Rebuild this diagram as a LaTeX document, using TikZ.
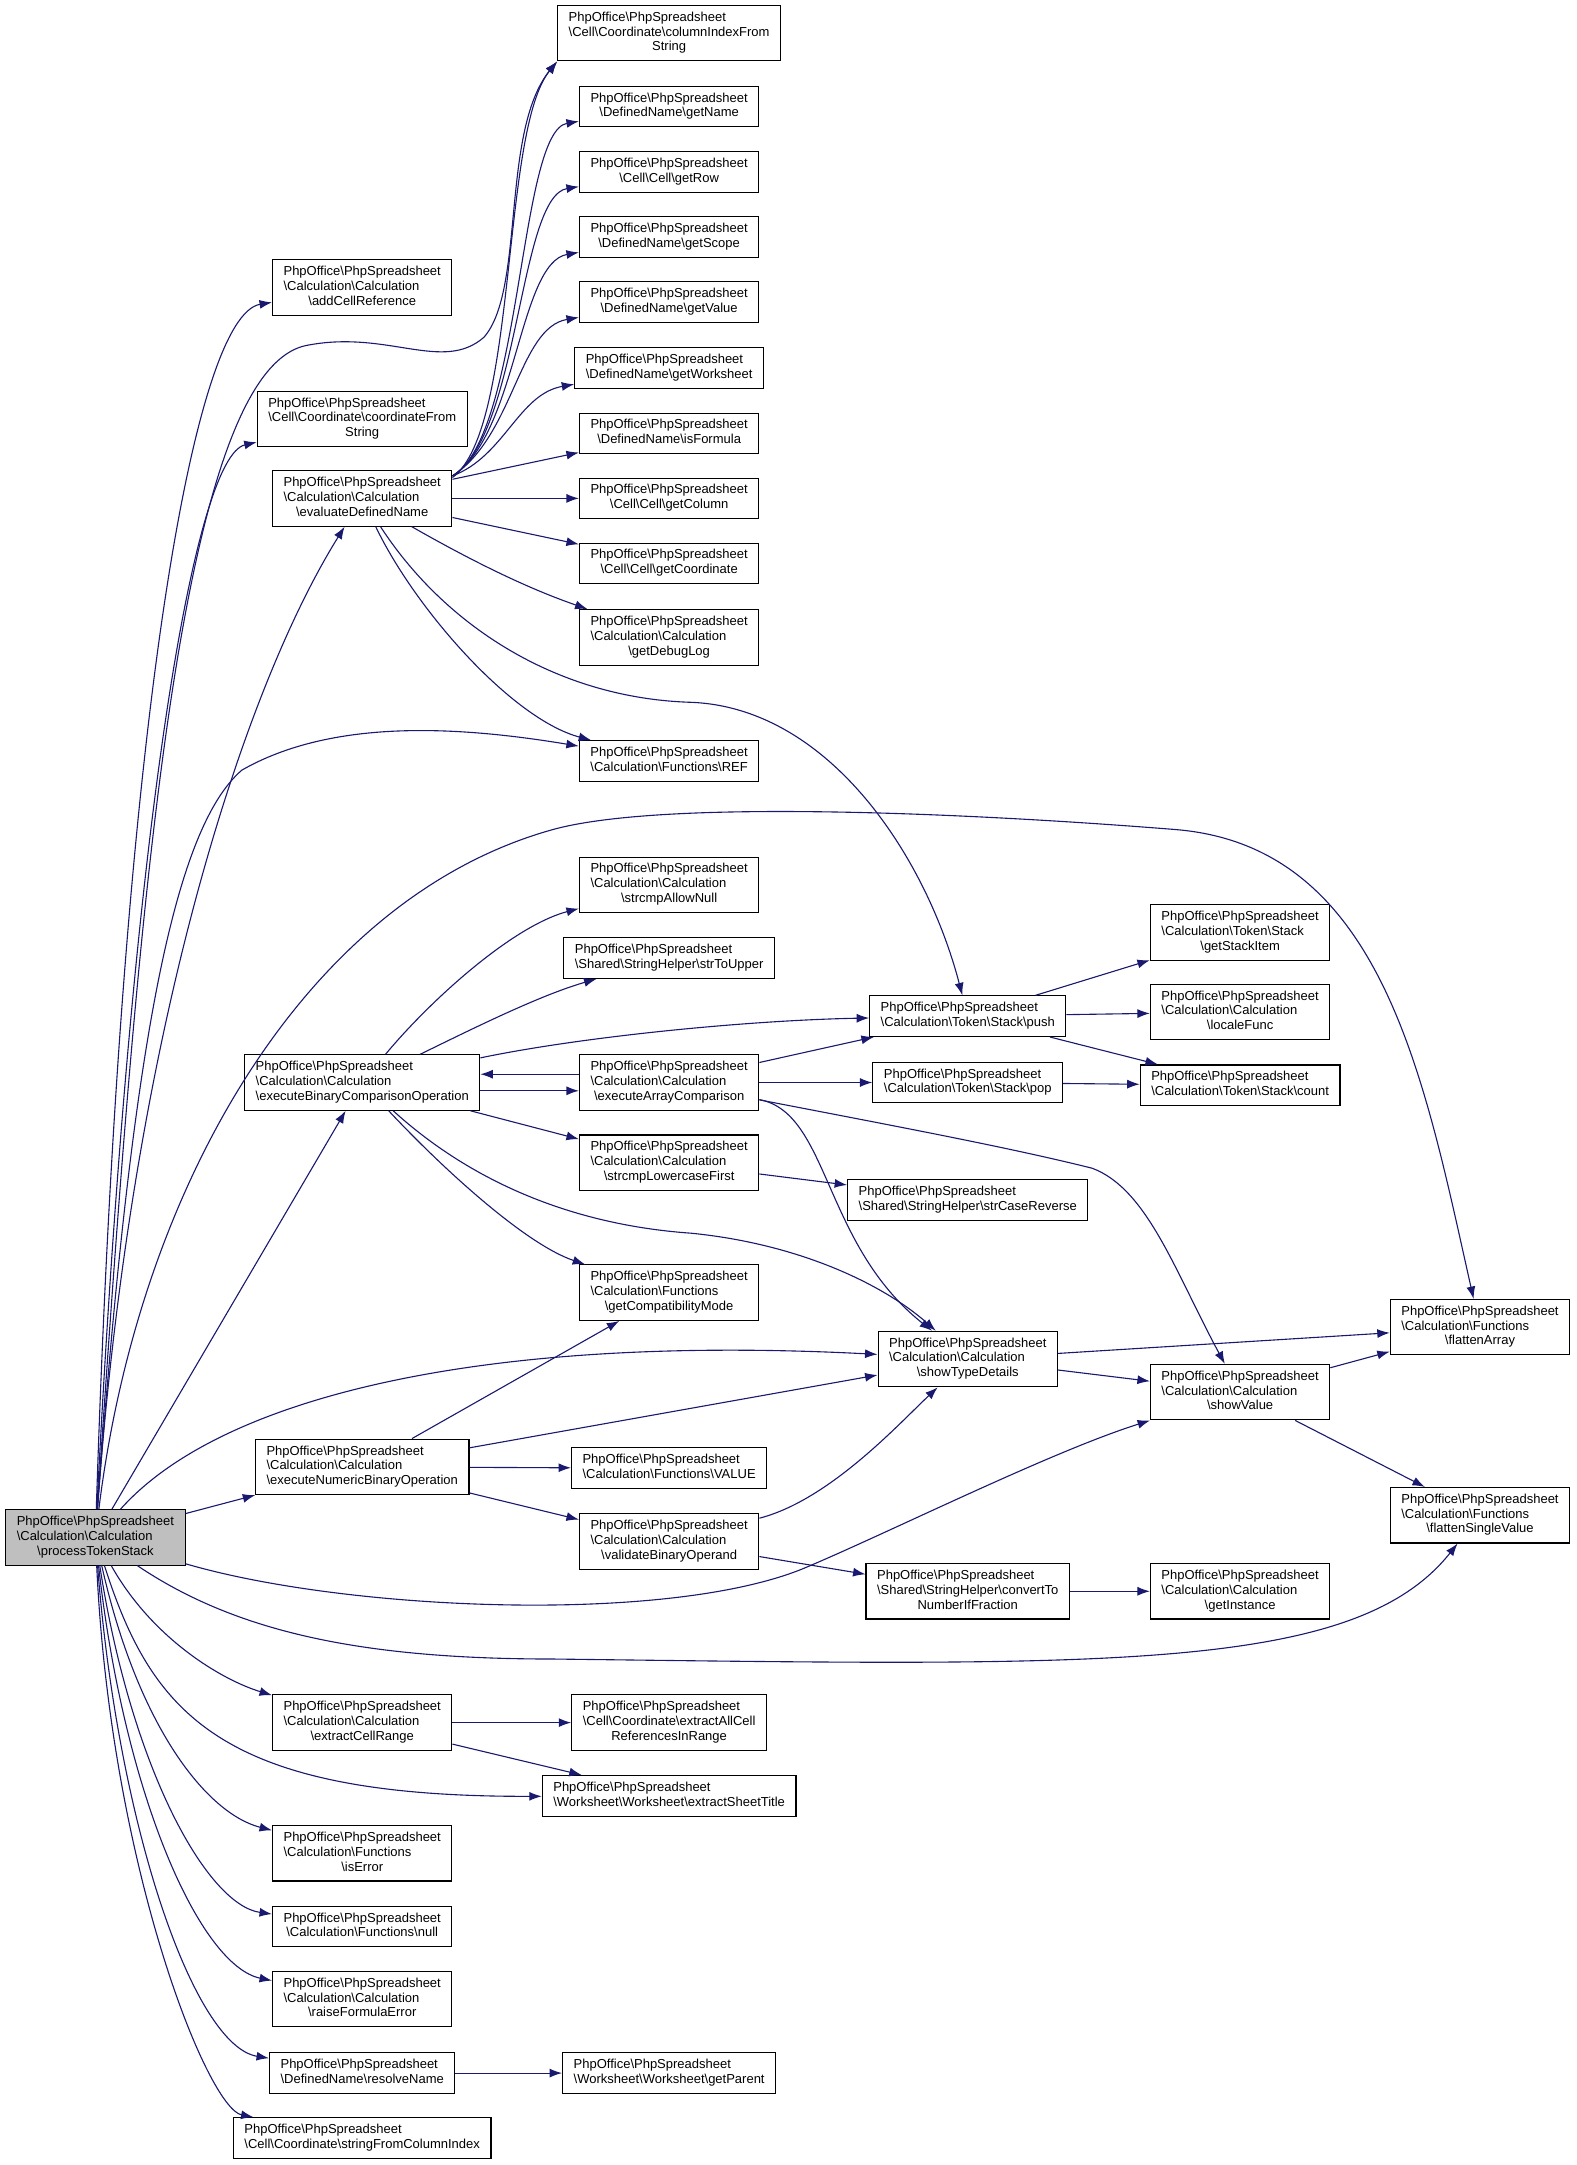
\documentclass[tikz,border=0pt]{standalone}
\usepackage{fontspec}
\setmainfont{Liberation Sans}
\usepackage{tikz}
\usetikzlibrary{arrows.meta}
\definecolor{edgeblue}{HTML}{191970}
\newcommand{\bks}{\textbackslash}
\newcommand{\dlines}[2]{\begin{tabular}{@{}l@{}}#1\\\multicolumn{1}{@{}c@{}}{#2}\end{tabular}}

\begin{document}
\begin{tikzpicture}[x=1pt,y=-1pt,
 fnbox/.style={draw=black,fill=white,line width=0.8pt,inner xsep=8pt,inner ysep=4pt,font=\fontsize{9.4}{10.7}\selectfont},
 curfn/.style={fnbox,fill=black!25},
 call/.style={draw=edgeblue,line width=0.8pt,-{Latex[length=9pt,width=6.5pt]}}]

\path[use as bounding box,fill=white] (0,0) rectangle (1140,1566);

% la fonction appelante
\node[curfn] (pts) at (69,1112) {\dlines{PhpOffice\bks PhpSpreadsheet\\\bks Calculation\bks Calculation}{\bks processTokenStack}};

% colonne 1
\node[fnbox] (addr) at (262,208) {\dlines{PhpOffice\bks PhpSpreadsheet\\\bks Calculation\bks Calculation}{\bks addCellReference}};
\node[fnbox] (cfs) at (262,303) {\dlines{PhpOffice\bks PhpSpreadsheet\\\bks Cell\bks Coordinate\bks coordinateFrom}{String}};
\node[fnbox] (edn) at (262,360.5) {\dlines{PhpOffice\bks PhpSpreadsheet\\\bks Calculation\bks Calculation}{\bks evaluateDefinedName}};
\node[fnbox] (ebco) at (262,783) {\dlines{PhpOffice\bks PhpSpreadsheet\\\bks Calculation\bks Calculation}{\bks executeBinaryComparisonOperation}};
\node[fnbox] (enbo) at (262,1061) {\dlines{PhpOffice\bks PhpSpreadsheet\\\bks Calculation\bks Calculation}{\bks executeNumericBinaryOperation}};
\node[fnbox] (ecr) at (262,1246) {\dlines{PhpOffice\bks PhpSpreadsheet\\\bks Calculation\bks Calculation}{\bks extractCellRange}};
\node[fnbox] (iserr) at (262,1340.5) {\dlines{PhpOffice\bks PhpSpreadsheet\\\bks Calculation\bks Functions}{\bks isError}};
\node[fnbox] (fnull) at (262,1393.5) {\dlines{PhpOffice\bks PhpSpreadsheet}{\bks Calculation\bks Functions\bks null}};
\node[fnbox] (rfe) at (262,1446) {\dlines{PhpOffice\bks PhpSpreadsheet\\\bks Calculation\bks Calculation}{\bks raiseFormulaError}};
\node[fnbox] (rn) at (262,1499.5) {\dlines{PhpOffice\bks PhpSpreadsheet}{\bks DefinedName\bks resolveName}};
\node[fnbox] (sfci) at (262,1546.5) {\dlines{PhpOffice\bks PhpSpreadsheet}{\bks Cell\bks Coordinate\bks stringFromColumnIndex}};

% colonne 2
\node[fnbox] (cifs) at (484,24) {\dlines{PhpOffice\bks PhpSpreadsheet\\\bks Cell\bks Coordinate\bks columnIndexFrom}{String}};
\node[fnbox] (getName) at (484,77) {\dlines{PhpOffice\bks PhpSpreadsheet}{\bks DefinedName\bks getName}};
\node[fnbox] (getRow) at (484,124.5) {\dlines{PhpOffice\bks PhpSpreadsheet}{\bks Cell\bks Cell\bks getRow}};
\node[fnbox] (getScope) at (484,171.5) {\dlines{PhpOffice\bks PhpSpreadsheet}{\bks DefinedName\bks getScope}};
\node[fnbox] (getValue) at (484,218.5) {\dlines{PhpOffice\bks PhpSpreadsheet}{\bks DefinedName\bks getValue}};
\node[fnbox] (getWs) at (484,266) {\dlines{PhpOffice\bks PhpSpreadsheet}{\bks DefinedName\bks getWorksheet}};
\node[fnbox] (isFormula) at (484,313.5) {\dlines{PhpOffice\bks PhpSpreadsheet}{\bks DefinedName\bks isFormula}};
\node[fnbox] (getColumn) at (484,360.5) {\dlines{PhpOffice\bks PhpSpreadsheet}{\bks Cell\bks Cell\bks getColumn}};
\node[fnbox] (getCoord) at (484,407.5) {\dlines{PhpOffice\bks PhpSpreadsheet}{\bks Cell\bks Cell\bks getCoordinate}};
\node[fnbox] (getDebugLog) at (484,461) {\dlines{PhpOffice\bks PhpSpreadsheet\\\bks Calculation\bks Calculation}{\bks getDebugLog}};
\node[fnbox] (fref) at (484,550.5) {\dlines{PhpOffice\bks PhpSpreadsheet}{\bks Calculation\bks Functions\bks REF}};
\node[fnbox] (strcmpAN) at (484,640) {\dlines{PhpOffice\bks PhpSpreadsheet\\\bks Calculation\bks Calculation}{\bks strcmpAllowNull}};
\node[fnbox] (strToUpper) at (484,693) {\dlines{PhpOffice\bks PhpSpreadsheet}{\bks Shared\bks StringHelper\bks strToUpper}};
\node[fnbox] (eac) at (484,783) {\dlines{PhpOffice\bks PhpSpreadsheet\\\bks Calculation\bks Calculation}{\bks executeArrayComparison}};
\node[fnbox] (slf) at (484,841) {\dlines{PhpOffice\bks PhpSpreadsheet\\\bks Calculation\bks Calculation}{\bks strcmpLowercaseFirst}};
\node[fnbox] (gcm) at (484,935) {\dlines{PhpOffice\bks PhpSpreadsheet\\\bks Calculation\bks Functions}{\bks getCompatibilityMode}};
\node[fnbox] (fvalue) at (484,1062) {\dlines{PhpOffice\bks PhpSpreadsheet}{\bks Calculation\bks Functions\bks VALUE}};
\node[fnbox] (vbo) at (484,1115) {\dlines{PhpOffice\bks PhpSpreadsheet\\\bks Calculation\bks Calculation}{\bks validateBinaryOperand}};
\node[fnbox] (eacr) at (484,1246) {\dlines{PhpOffice\bks PhpSpreadsheet\\\bks Cell\bks Coordinate\bks extractAllCell}{ReferencesInRange}};
\node[fnbox] (est) at (484,1299) {\dlines{PhpOffice\bks PhpSpreadsheet}{\bks Worksheet\bks Worksheet\bks extractSheetTitle}};
\node[fnbox] (getParent) at (484,1499.5) {\dlines{PhpOffice\bks PhpSpreadsheet}{\bks Worksheet\bks Worksheet\bks getParent}};

% colonne 3
\node[fnbox] (push) at (700,735) {\dlines{PhpOffice\bks PhpSpreadsheet}{\bks Calculation\bks Token\bks Stack\bks push}};
\node[fnbox] (pop) at (700,783) {\dlines{PhpOffice\bks PhpSpreadsheet}{\bks Calculation\bks Token\bks Stack\bks pop}};
\node[fnbox] (scr) at (700,868) {\dlines{PhpOffice\bks PhpSpreadsheet}{\bks Shared\bks StringHelper\bks strCaseReverse}};
\node[fnbox] (std) at (700,983) {\dlines{PhpOffice\bks PhpSpreadsheet\\\bks Calculation\bks Calculation}{\bks showTypeDetails}};
\node[fnbox] (ctnif) at (700,1151) {\dlines{PhpOffice\bks PhpSpreadsheet\\\bks Shared\bks StringHelper\bks convertTo}{NumberIfFraction}};

% colonne 4
\node[fnbox] (gsi) at (897,674.5) {\dlines{PhpOffice\bks PhpSpreadsheet\\\bks Calculation\bks Token\bks Stack}{\bks getStackItem}};
\node[fnbox] (lf) at (897,732) {\dlines{PhpOffice\bks PhpSpreadsheet\\\bks Calculation\bks Calculation}{\bks localeFunc}};
\node[fnbox] (cnt) at (897,785) {\dlines{PhpOffice\bks PhpSpreadsheet}{\bks Calculation\bks Token\bks Stack\bks count}};
\node[fnbox] (sv) at (897,1007) {\dlines{PhpOffice\bks PhpSpreadsheet\\\bks Calculation\bks Calculation}{\bks showValue}};
\node[fnbox] (gi) at (897,1151) {\dlines{PhpOffice\bks PhpSpreadsheet\\\bks Calculation\bks Calculation}{\bks getInstance}};

% colonne 5
\node[fnbox] (fa) at (1070.5,960) {\dlines{PhpOffice\bks PhpSpreadsheet\\\bks Calculation\bks Functions}{\bks flattenArray}};
\node[fnbox] (fsv) at (1070.5,1096) {\dlines{PhpOffice\bks PhpSpreadsheet\\\bks Calculation\bks Functions}{\bks flattenSingleValue}};

% appels de processTokenStack
\draw[call] (pts) .. controls (88,520) and (140,228) .. (addr);
\draw[call] (pts) .. controls (100,650) and (130,270) .. (221,250) .. controls (280,238) and (320,270) .. (350,244) .. controls (380,210) and (362,95) .. (cifs.south west);
\draw[call] (pts) .. controls (95,600) and (140,330) .. (cfs);
\draw[call] (pts) .. controls (95,750) and (175,500) .. (edn);
\draw[call] (pts) .. controls (95,760) and (125,600) .. (175,557) .. controls (240,520) and (330,525) .. (fref);
\draw[call] (pts) .. controls (100,860) and (220,650) .. (400,600) .. controls (480,578) and (700,588) .. (850,600) .. controls (1000,612) and (1030,780) .. (fa);
\draw[call] (pts) -- (ebco);
\draw[call] (pts) .. controls (160,1010) and (350,965) .. (std);
\draw[call] (pts) -- (enbo);
\draw[call] (pts) .. controls (250,1165) and (480,1175) .. (580,1135) .. controls (640,1110) and (760,1050) .. (sv);
\draw[call] (pts) .. controls (170,1180) and (260,1200) .. (400,1200) .. controls (800,1205) and (980,1210) .. (fsv);
\draw[call] (pts) .. controls (110,1185) and (160,1215) .. (ecr);
\draw[call] (pts) .. controls (110,1240) and (160,1300) .. (est);
\foreach \callee/\a/\b/\c/\d in {iserr/100/1250/150/1312, fnull/95/1280/150/1378, rfe/90/1300/145/1422, rn/85/1320/140/1480, sfci/80/1350/150/1525}{
  \draw[call] (pts) .. controls (\a,\b) and (\c,\d) .. (\callee);
}

% appels de evaluateDefinedName
\draw[call] (edn.13) .. controls (375,310) and (362,95) .. (cifs.south west);
\foreach \callee/\a/\c in {getName/378/95, getRow/376/142, getScope/374/190, getValue/372/237}{
  \draw[call] (edn.14) .. controls (\a,315) and (375,\c) .. (\callee);
}
\draw[call] (edn.14) .. controls (365,330) and (375,285) .. (getWs);
\draw[call] (edn) -- (isFormula);
\draw[call] (edn) -- (getColumn);
\draw[call] (edn) -- (getCoord);
\draw[call] (edn) .. controls (340,405) and (380,425) .. (getDebugLog);
\draw[call] (edn) .. controls (300,440) and (370,520) .. (fref);
\draw[call] (edn) .. controls (320,450) and (400,505) .. (500,508) .. controls (600,512) and (670,620) .. (push);

% comparaisons
\draw[call] (ebco) .. controls (310,725) and (370,670) .. (strcmpAN);
\draw[call] (ebco) .. controls (340,745) and (390,720) .. (strToUpper);
\draw[call] (ebco) .. controls (420,750) and (540,738) .. (push);
\draw[call] ([yshift=-6pt]ebco.east) -- ([yshift=-6pt]eac.west);
\draw[call] ([yshift=6pt]eac.west) -- ([yshift=6pt]ebco.east);
\draw[call] (ebco) -- (slf);
\draw[call] (ebco) .. controls (320,845) and (380,900) .. (gcm);
\draw[call] (ebco) .. controls (330,845) and (400,885) .. (500,892) .. controls (580,900) and (640,930) .. (std);
\draw[call] (eac) -- (push);
\draw[call] (eac) -- (pop);
\draw[call] (eac) .. controls (600,805) and (595,900) .. (std);
\draw[call] (eac) .. controls (650,815) and (730,830) .. (790,845) .. controls (830,860) and (850,920) .. (sv);
\draw[call] (push) -- (gsi);
\draw[call] (push) -- (lf);
\draw[call] (push) -- (cnt);
\draw[call] (pop) -- (cnt);
\draw[call] (slf) -- (scr);
\draw[call] (std) -- (fa);
\draw[call] (std) -- (sv);
\draw[call] (sv) -- (fa);
\draw[call] (sv) -- (fsv);

% operations numeriques
\draw[call] (enbo) -- (gcm);
\draw[call] (enbo) -- (std);
\draw[call] (enbo) -- (fvalue);
\draw[call] (enbo) -- (vbo);
\draw[call] (vbo) .. controls (600,1085) and (650,1030) .. (std);
\draw[call] (vbo) -- (ctnif);
\draw[call] (ctnif) -- (gi);
\draw[call] (ecr) -- (eacr);
\draw[call] (ecr) -- (est);
\draw[call] (rn) -- (getParent);
\end{tikzpicture}
\end{document}
